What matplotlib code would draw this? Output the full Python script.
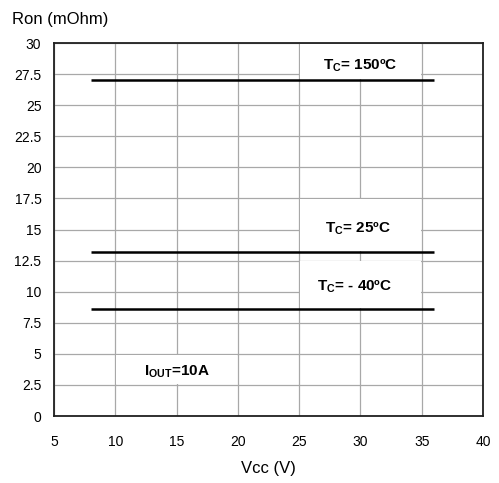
import numpy as np
import matplotlib
matplotlib.use('Agg')
import matplotlib.pyplot as plt

plt.rcParams['font.family'] = ['Liberation Sans', 'DejaVu Sans']
plt.rcParams['mathtext.fontset'] = 'custom'
plt.rcParams['mathtext.rm'] = 'Liberation Sans'
plt.rcParams['mathtext.bf'] = 'Liberation Sans:bold'

# dados
vcc = [8, 36]
ron_150 = [27.0, 27.0]
ron_25 = [13.2, 13.2]
ron_m40 = [8.6, 8.6]

rotulos = [r'$\mathbf{T_C}$= 150ºC', r'$\mathbf{T_C}$= 25ºC', r'$\mathbf{T_C}$= - 40ºC']
pos_rotulos = [(30.0, 28.2), (29.8, 15.05), (29.5, 10.4)]
# fundos brancos atras dos rotulos (x0, x1, y0, y1)
fundos = [(25.06, 34.94, 27.1, 29.95), (25.06, 34.94, 13.3, 17.44),
          (25.06, 34.94, 8.7, 12.44), (10.06, 19.94, 2.56, 4.94)]

fig = plt.figure(figsize=(4.99, 4.83), dpi=100)
ax = fig.add_axes([0.108, 0.1387, 0.860, 0.772])

for x0, x1, y0, y1 in fundos:
    ax.fill_between([x0, x1], y0, y1, color='white', lw=0, zorder=1)

for serie in (ron_150, ron_25, ron_m40):
    ax.plot(vcc, serie, color='black', lw=1.8, solid_capstyle='butt', zorder=3)

for txt, (x, y) in zip(rotulos, pos_rotulos):
    ax.text(x, y, txt, fontsize=11, fontweight='bold', ha='center', va='center', zorder=4)
ax.text(15, 3.55, r'I$_{\mathbf{OUT}}$=10A', fontsize=11, fontweight='bold',
        ha='center', va='center', zorder=4)

ax.set_xlim(5, 40)
ax.set_ylim(0, 30)
ax.set_xticks(np.arange(5, 41, 5))
ax.set_yticks(np.arange(0, 30.1, 2.5))
ax.set_yticklabels(['0', '2.5', '5', '7.5', '10', '12.5', '15', '17.5', '20',
                    '22.5', '25', '27.5', '30'])
ax.tick_params(length=0, labelsize=10)
ax.tick_params(axis='x', pad=14)
ax.tick_params(axis='y', pad=9)
ax.grid(True, color='#a8a8a8', lw=0.9)
ax.set_axisbelow(True)
for s in ax.spines.values():
    s.set_linewidth(1.3)
    s.set_color('#202020')

fig.text(0.024, 0.9586, 'Ron (mOhm)', fontsize=12, ha='left', va='center')
ax.set_xlabel('Vcc (V)', fontsize=12, labelpad=8)

plt.savefig('out.png', dpi=100)
